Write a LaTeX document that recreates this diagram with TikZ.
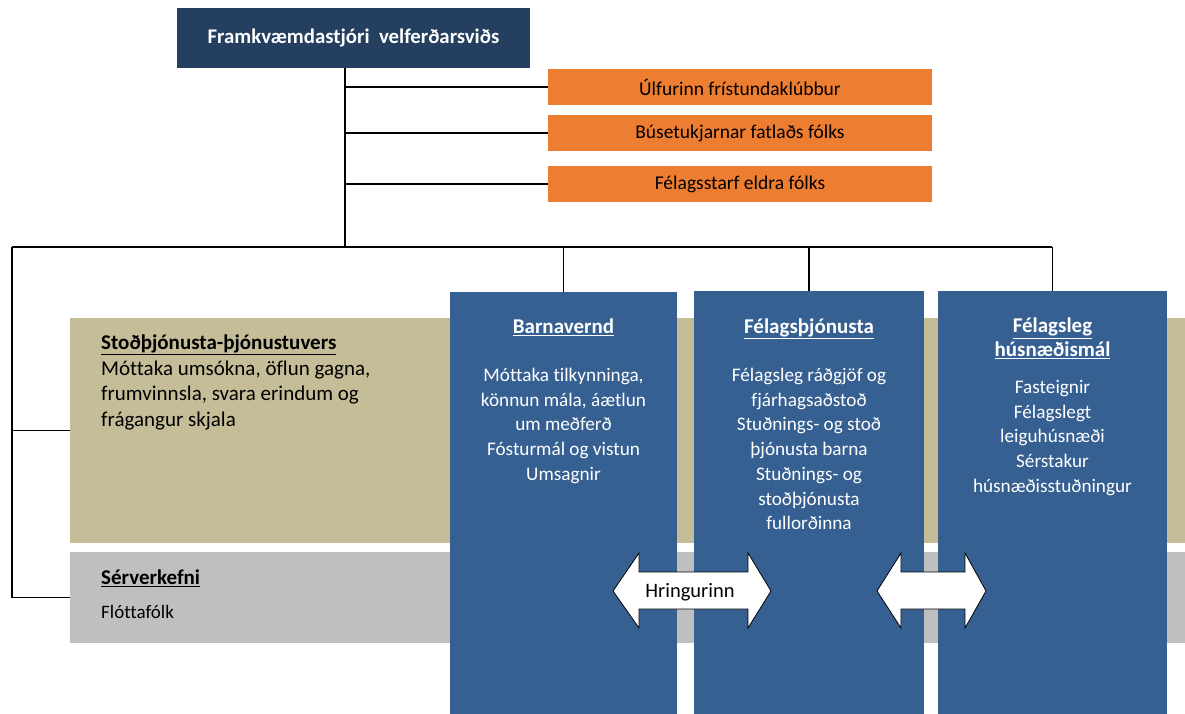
\documentclass[tikz,border=0pt]{standalone}
\usepackage{fontspec}
\setmainfont[Ligatures={TeX,NoCommon}]{Carlito}
\definecolor{navy}{HTML}{243F60}
\definecolor{orng}{HTML}{ED7D31}
\definecolor{tanband}{HTML}{C4BD97}
\definecolor{grayband}{HTML}{BFBFBF}
\definecolor{colblue}{HTML}{366092}
\begin{document}
\begin{tikzpicture}[x=1pt,y=-1pt,
  box/.style={inner sep=0pt, outer sep=0pt, draw=none},
  orangebox/.style={box, fill=orng, minimum width=384pt, minimum height=36pt, font=\fontsize{19.5}{22}\selectfont},
  conn/.style={draw=black, line width=1.1pt},
  coltitle/.style={text=white, font=\bfseries\fontsize{21}{24}\selectfont, align=center, anchor=north, inner sep=0pt},
  coltext/.style={text=white, font=\fontsize{19.2}{24.7}\selectfont, align=center, anchor=north, inner sep=0pt},
  arrowshape/.style={draw=black, fill=white, line width=0.8pt, line join=miter}]
\useasboundingbox (0,0) rectangle (1185,713);
% top and orange boxes
\node[box, fill=navy, minimum width=353pt, minimum height=60pt, text=white,
  font=\bfseries\fontsize{20.8}{24}\selectfont] (top) at (353.5,38) {Framkvæmdastjóri\ \ velferðarsviðs};
\node[orangebox] (o1) at (740,87) {Úlfurinn frístundaklúbbur};
\node[orangebox] (o2) at (740,133) {Búsetukjarnar fatlaðs fólks};
\node[orangebox] (o3) at (740,184) {Félagsstarf eldra fólks};
% bands
\node[box, fill=tanband, minimum width=1115pt, minimum height=225pt] (tan) at (627.5,430.5) {};
\node[box, fill=grayband, minimum width=1115pt, minimum height=91pt] (gray) at (627.5,597.5) {};
% connectors
\coordinate (t) at (345,68);
\coordinate (bus) at (345,247);
\coordinate (L) at (12,247);
\coordinate (R) at (1052,247);
\path[conn] (t) -- (bus);
\path[conn] (o1.west -| t) -- (o1.west);
\path[conn] (o2.west -| t) -- (o2.west);
\path[conn] (o3.west -| t) -- (o3.west);
\path[conn] (L) -- (R);
\path[conn] (L) |- (gray.west);
\path[conn] (tan.west -| L) -- (tan.west);
% tan / gray texts
\node[anchor=north west, inner sep=0pt, align=left, font=\fontsize{21}{25.7}\selectfont] (tantext) at (101,334.5)
  {\textbf{\underline{Stoðþjónusta-þjónustuvers}}\\Móttaka umsókna, öflun gagna,\\frumvinnsla, svara erindum og\\frágangur skjala};
\node[anchor=north west, inner sep=0pt, font=\bfseries\fontsize{21}{24}\selectfont] (sertitle) at (101,569.5) {\underline{Sérverkefni}};
\node[anchor=north west, inner sep=0pt, font=\fontsize{19}{22}\selectfont] (sertext) at (101,605) {Flóttafólk};
% blue columns
\node[box, fill=colblue, minimum width=227pt, minimum height=424pt] (b1) at (563.5,504) {};
\node[box, fill=colblue, minimum width=230pt, minimum height=424pt] (b2) at (809,503) {};
\node[box, fill=colblue, minimum width=229pt, minimum height=424pt] (b3) at (1052.5,503) {};
\path[conn] (b1.north |- bus) -- (b1.north);
\path[conn] (b2.north |- bus) -- (b2.north);
\path[conn] (b3.north |- bus) -- (b3.north);
\node[coltitle] (b1t) at (563.5,318.5) {\underline{Barnavernd}};
\node[coltitle] (b2t) at (809,318.5) {\underline{Félagsþjónusta}};
\node[coltitle] (b3t) at (1052.5,318) {\underline{Félagsleg}\\\underline{húsnæðismál}};
\node[coltext] (b1x) at (563.5,368) {Móttaka tilkynninga,\\könnun mála, áætlun\\um meðferð\\Fósturmál og vistun\\Umsagnir};
\node[coltext] (b2x) at (809,368) {Félagsleg ráðgjöf og\\fjárhagsaðstoð\\Stuðnings- og stoð\\þjónusta barna\\Stuðnings- og\\stoðþjónusta\\fullorðinna};
\node[coltext] (b3x) at (1052.5,380) {Fasteignir\\Félagslegt\\leiguhúsnæði\\Sérstakur\\húsnæðisstuðningur};
% double arrows
\path[arrowshape] (613,591) -- (639,553) -- (639,572) -- (748,572) -- (748,553) -- (771,591)
  -- (748,628) -- (748,609) -- (639,609) -- (639,628) -- cycle;
\node[inner sep=0pt, font=\fontsize{20.5}{22}\selectfont] (hring) at (690,592) {Hringurinn};
\path[arrowshape] (877,591) -- (901,553) -- (901,572) -- (965,572) -- (965,553) -- (986,591)
  -- (965,628) -- (965,609) -- (901,609) -- (901,628) -- cycle;
\end{tikzpicture}
\end{document}
